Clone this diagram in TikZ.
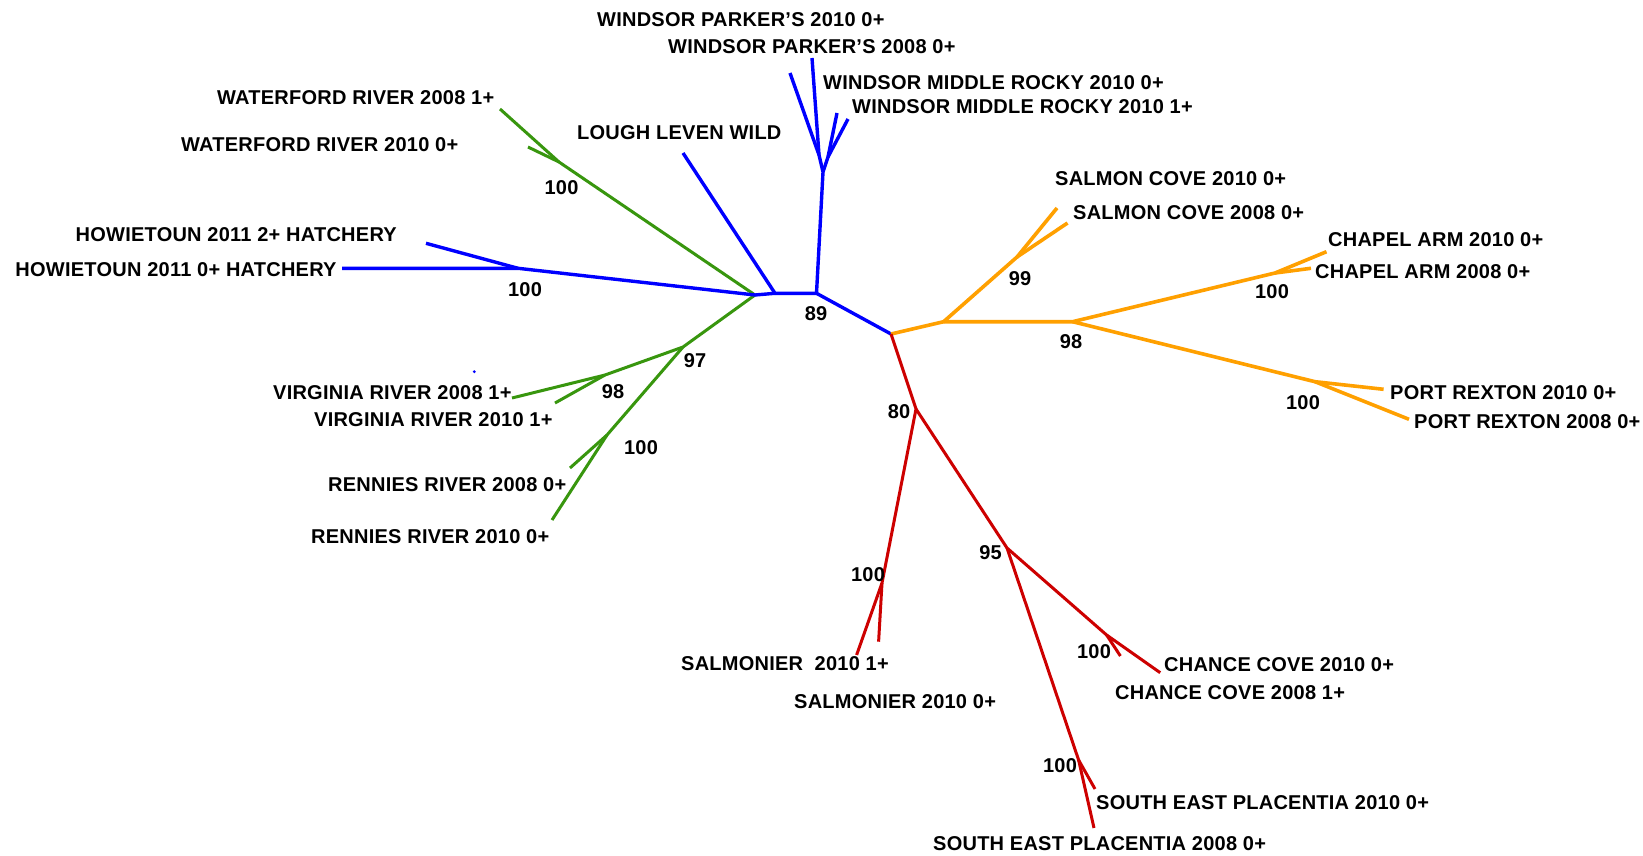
\documentclass[tikz,border=0pt]{standalone}
\usepackage{fontspec}
\setmainfont{Liberation Sans}[LetterSpace=1.2]
\definecolor{cblue}{RGB}{0,0,255}
\definecolor{cgreen}{RGB}{56,150,14}
\definecolor{corange}{RGB}{255,160,0}
\definecolor{cred}{RGB}{205,0,0}
\tikzset{
  lbl/.style={anchor=west,inner sep=0pt,font=\fontsize{20}{22}\selectfont\bfseries},
  supval/.style={anchor=center,inner sep=0pt,font=\fontsize{20}{22}\selectfont\bfseries},
  bl/.style={draw=cblue,line width=3.4pt,line join=round},
  gr/.style={draw=cgreen,line width=3pt,line join=round},
  og/.style={draw=corange,line width=3.6pt,line join=round},
  rd/.style={draw=cred,line width=3pt,line join=round}
}
\begin{document}
\begin{tikzpicture}[x=1pt,y=-1pt]
\useasboundingbox[fill=white] (0,0) rectangle (1643,856);
% ---------- coordinates
\coordinate (C) at (891,334);
% blue
\coordinate (N89) at (816.5,293.3);
\coordinate (W) at (823,172);
\coordinate (WL) at (819,155);
\coordinate (wp1) at (812,58);
\coordinate (wp2) at (790,73);
\coordinate (WR) at (828,157);
\coordinate (wm1) at (837,113);
\coordinate (wm2) at (848,119);
\coordinate (LLb) at (775,293.3);
\coordinate (LLt) at (683,153);
\coordinate (G) at (755,295);
\coordinate (H) at (518,268.3);
\coordinate (h2) at (426,243.3);
\coordinate (h0) at (342,268.3);
% green
\coordinate (WF) at (559,162);
\coordinate (wf1) at (500,109);
\coordinate (wf0) at (528,147);
\coordinate (G97) at (683,347);
\coordinate (VR) at (605,375);
\coordinate (vr8) at (512,398);
\coordinate (vr0) at (555,403);
\coordinate (RR) at (607,435);
\coordinate (rr8) at (570,468);
\coordinate (rr0) at (552,520);
% orange
\coordinate (A) at (943.6,321.7);
\coordinate (SC) at (1017,257);
\coordinate (sc0) at (1057,208);
\coordinate (sc8) at (1067.5,223);
\coordinate (B) at (1072.6,321.7);
\coordinate (CA) at (1275,273);
\coordinate (ca0) at (1326.5,251.7);
\coordinate (ca8) at (1311,268.3);
\coordinate (PR) at (1315,381.7);
\coordinate (pr0) at (1383.6,389.3);
\coordinate (pr8) at (1409,419.3);
% red
\coordinate (R80) at (916,409);
\coordinate (SM) at (882,583);
\coordinate (sm1) at (856.6,655);
\coordinate (sm0) at (878.6,641.7);
\coordinate (R95) at (1007,548);
\coordinate (CC) at (1106.6,635);
\coordinate (cc8) at (1120.4,656);
\coordinate (cc0) at (1160.2,672.7);
\coordinate (SE) at (1078.6,760);
\coordinate (se0) at (1095,789);
\coordinate (se8) at (1094,828);
% ---------- branches
\draw[gr] (G) -- (WF) -- (wf1);
\draw[gr] (WF) -- (wf0);
\draw[gr] (G) -- (G97) -- (VR) -- (vr8);
\draw[gr] (VR) -- (vr0);
\draw[gr] (G97) -- (RR) -- (rr0);
\draw[gr] (RR) -- (rr8);
\draw[bl] (C) -- (N89) -- (W) -- (WL) -- (wp1);
\draw[bl] (WL) -- (wp2);
\draw[bl] (W) -- (WR) -- (wm1);
\draw[bl] (WR) -- (wm2);
\draw[bl] (N89) -- (LLb) -- (LLt);
\draw[bl] (LLb) -- (G) -- (H) -- (h0);
\draw[bl] (H) -- (h2);
\draw[og] (C) -- (A) -- (SC) -- (sc0);
\draw[og] (SC) -- (sc8);
\draw[og] (A) -- (B) -- (CA) -- (ca0);
\draw[og] (CA) -- (ca8);
\draw[og] (B) -- (PR) -- (pr0);
\draw[og] (PR) -- (pr8);
\draw[rd] (C) -- (R80) -- (SM) -- (sm1);
\draw[rd] (SM) -- (sm0);
\draw[rd] (R80) -- (R95) -- (CC) -- (cc0);
\draw[rd] (CC) -- (cc8);
\draw[rd] (R95) -- (SE) -- (se8);
\draw[rd] (SE) -- (se0);
\fill[cblue] (474.3,371.7) circle (1.6pt);
% ---------- taxon labels
\node[lbl] (t1) at (597,20) {WINDSOR PARKER’S 2010 0+};
\node[lbl] (t2) at (668,47) {WINDSOR PARKER’S 2008 0+};
\node[lbl] (t3) at (823,83) {WINDSOR MIDDLE ROCKY 2010 0+};
\node[lbl] (t4) at (852,107) {WINDSOR MIDDLE ROCKY 2010 1+};
\node[lbl] (t5) at (577,133) {LOUGH LEVEN WILD};
\node[lbl] (t6) at (217,98) {WATERFORD RIVER 2008 1+};
\node[lbl] (t7) at (181,145) {WATERFORD RIVER 2010 0+};
\node[lbl] (t8) at (75.5,235) {HOWIETOUN 2011 2+ HATCHERY};
\node[lbl] (t9) at (15.3,270) {HOWIETOUN 2011 0+ HATCHERY};
\node[lbl] (t10) at (273,393) {VIRGINIA RIVER 2008 1+};
\node[lbl] (t11) at (314,420) {VIRGINIA RIVER 2010 1+};
\node[lbl] (t12) at (328,485) {RENNIES RIVER 2008 0+};
\node[lbl] (t13) at (311,537) {RENNIES RIVER 2010 0+};
\node[lbl] (t14) at (1055,179) {SALMON COVE 2010 0+};
\node[lbl] (t15) at (1073,213) {SALMON COVE 2008 0+};
\node[lbl] (t16) at (1328,240) {CHAPEL ARM 2010 0+};
\node[lbl] (t17) at (1315,272) {CHAPEL ARM 2008 0+};
\node[lbl] (t18) at (1390,393) {PORT REXTON 2010 0+};
\node[lbl] (t19) at (1414,422) {PORT REXTON 2008 0+};
\node[lbl] (t20) at (681,664) {SALMONIER\ \ 2010 1+};
\node[lbl] (t21) at (794,702) {SALMONIER 2010 0+};
\node[lbl] (t22) at (1164,665) {CHANCE COVE 2010 0+};
\node[lbl] (t23) at (1115,693) {CHANCE COVE 2008 1+};
\node[lbl] (t24) at (1096,803) {SOUTH EAST PLACENTIA 2010 0+};
\node[lbl] (t25) at (933,844) {SOUTH EAST PLACENTIA 2008 0+};
% ---------- support values
\node[supval] (s1) at (561.5,188) {100};
\node[supval] (s2) at (525,290) {100};
\node[supval] (s3) at (816,314) {89};
\node[supval] (s4) at (695,361) {97};
\node[supval] (s5) at (613,392) {98};
\node[supval] (s6) at (641,448) {100};
\node[supval] (s7) at (1020,279) {99};
\node[supval] (s8) at (1071,342) {98};
\node[supval] (s9) at (1272,292) {100};
\node[supval] (s10) at (1303,403) {100};
\node[supval] (s11) at (899,412) {80};
\node[supval] (s12) at (868,575) {100};
\node[supval] (s13) at (990.5,553) {95};
\node[supval] (s14) at (1094,652) {100};
\node[supval] (s15) at (1060,766) {100};
\end{tikzpicture}
\end{document}
